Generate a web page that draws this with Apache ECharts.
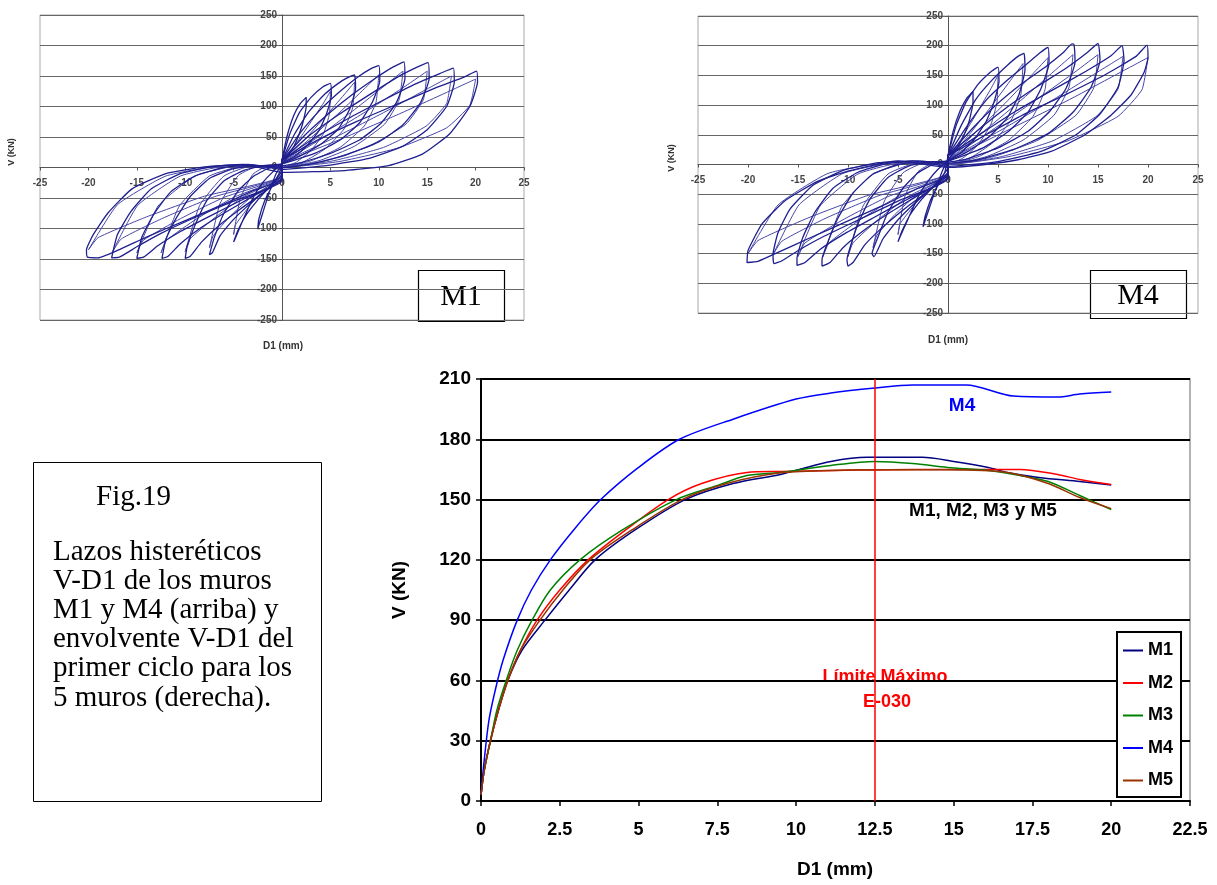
<!DOCTYPE html>
<html>
<head>
<meta charset="utf-8">
<script src="https://cdn.jsdelivr.net/npm/echarts@6/dist/echarts.min.js"></script>
<style>
  html, body { margin: 0; padding: 0; background: #fff; }
  #chart { width: 1217px; height: 885px; }
</style>
</head>
<body>
<div id="chart"></div>
<script>
// envolventes del primer ciclo, D1 (mm) vs V (KN)
const m1Env = [[0,3],[0.1,15],[0.3,30],[0.55,45],[0.85,60],[1.3,75],[2.03,90],[2.8,105],[3.62,120],[4.9,135],[6.48,150],[8,158],[9.5,162.5],[10.1,165],[11.1,169],[12.25,171],[14,171],[15,169],[16.1,166],[16.7,163.5],[17.7,161],[19,159],[20,157.3]];
const m2Env = [[0,3],[0.1,15],[0.3,30],[0.55,45],[0.85,60],[1.25,75],[1.78,90],[2.5,105],[3.4,120],[4.6,135],[5.94,150],[7,158],[8.44,163.5],[9.5,164],[11.3,164.5],[13.7,165],[15,165],[17.1,165],[18.3,162.5],[19,160],[20,157.5]];
const m3Env = [[0,3],[0.1,15],[0.3,30],[0.5,45],[0.8,60],[1.15,75],[1.62,90],[2.2,105],[3.14,120],[4.5,135],[6.2,150],[7.5,157],[8.44,162],[9.5,163.5],[11.1,167],[12.5,169],[13.7,168],[14.8,166],[16.1,164.5],[17.1,162],[18,159],[19,152],[20,145]];
const m4Env = [[0,3],[0.1,20],[0.25,40],[0.45,55],[0.7,70],[1.15,90],[1.6,105],[2.2,120],[3,136],[3.8,150],[5,166],[6.3,180],[8,190],[10,200],[11.1,203],[12.5,205.5],[13.7,207],[15.4,207],[16.9,201.5],[18.3,201],[19,202.5],[20,203.5]];
const m5Env = [[0,3],[0.1,15],[0.3,30],[0.55,45],[0.85,60],[1.25,75],[1.87,90],[2.6,105],[3.46,120],[4.8,135],[6.38,150],[7.8,158],[9.5,163.3],[11,164.5],[12.5,164.8],[14.8,164.8],[16.7,163.5],[18,158],[19,151],[20,145.5]];
const envNames = ['M1', 'M2', 'M3', 'M4', 'M5'];
const envColors = ['#000080', '#ff0000', '#008000', '#0000ff', '#993300'];
const limiteD1 = 12.5;

// lazos histereticos del muro M1, primer ciclo de cada nivel
const m1Loop2_5 = [[0,12],[0.5,50],[1.2,85],[1.9,105],[2.5,115],[2.5,100],[2.1,70],[1.4,40],[0.6,18],[0,5],[-0.6,-10],[-1.3,-40],[-2,-75],[-2.5,-100],[-2.4,-85],[-1.8,-55],[-1,-30],[-0.3,-10],[0,5]];
const m1Loop5 = [[0,12],[0.8,55],[1.8,90],[3,115],[4.2,132],[5,138],[5.1,118],[4.6,88],[3.8,60],[2.6,36],[1.3,18],[0,6],[-1,-8],[-2,-25],[-3,-50],[-4,-85],[-4.8,-115],[-5,-122],[-4.6,-105],[-3.8,-80],[-2.6,-55],[-1.2,-30],[0,-5],[0,12]];
const m1Loop7_5 = [[0,12],[1.3,55],[2.8,92],[4.4,120],[6,140],[7,149],[7.5,152],[7.6,130],[7,96],[5.8,63],[4,38],[2,20],[0,6],[-1.5,-2],[-3,-15],[-4.5,-38],[-6,-75],[-7,-115],[-7.5,-143],[-7.2,-140],[-6.4,-112],[-5,-85],[-3.2,-58],[-1.5,-35],[0,-10],[0,12]];
const m1Loop10 = [[0,12],[1.8,55],[3.8,92],[5.8,122],[7.8,148],[9.2,162],[10,167],[10.1,142],[9.3,106],[8,73],[6,45],[3.5,24],[0,6],[-2,3],[-4,-5],[-6,-22],[-7.8,-55],[-9,-95],[-9.8,-130],[-10,-149],[-9.5,-146],[-8.3,-122],[-6.5,-95],[-4.3,-68],[-2,-42],[0,-15],[0,12]];
const m1Loop12_5 = [[0,12],[2.3,52],[4.8,88],[7.3,120],[9.8,148],[11.5,165],[12.6,173],[12.7,146],[11.8,106],[10.2,72],[8,45],[5,23],[2,8],[0,3],[-2.5,3],[-5,-2],[-7.5,-18],[-9.5,-48],[-11,-85],[-12,-118],[-12.4,-149],[-11.8,-146],[-10.5,-125],[-8.5,-100],[-6,-75],[-3,-47],[0,-18],[0,12]];
const m1Loop15 = [[0,12],[2.8,52],[5.8,86],[8.8,117],[11.8,147],[13.9,164],[15.1,172],[15.2,146],[14.3,106],[12.5,70],[10,42],[6.5,20],[3,6],[0,0],[-3,4],[-6,0],[-9,-14],[-11.5,-40],[-13.3,-78],[-14.5,-115],[-15,-149],[-14.3,-147],[-12.8,-128],[-10.5,-105],[-7.5,-80],[-4,-52],[0,-20],[0,12]];
const m1Loop17_5 = [[0,12],[3.3,48],[6.8,80],[10.3,109],[13.8,137],[16.3,154],[17.7,163],[17.8,140],[17,100],[15,62],[12.5,35],[9,15],[5,4],[0,-3],[-3.5,5],[-7,2],[-10.5,-10],[-13.5,-35],[-15.6,-72],[-17,-110],[-17.6,-148],[-16.8,-147],[-15,-130],[-12.5,-108],[-9,-82],[-5,-55],[0,-22],[0,12]];
const m1Loop20 = [[0,12],[3.8,46],[7.8,76],[11.8,103],[15.8,130],[18.8,148],[20.1,158],[20.2,140],[19.4,100],[17.3,55],[14.5,22],[11,3],[6.5,-5],[0,-8],[-4,5],[-8,1],[-12,-10],[-15.5,-35],[-18,-75],[-19.5,-110],[-20.2,-135],[-20.1,-147],[-19,-148],[-17,-136],[-14,-114],[-10,-87],[-6,-60],[-3,-38],[0,-18],[0,12]];
// M1, ciclos repetidos (degradados)
const m1Rep5 = [[0,8],[1.5,40],[3,75],[4.3,106],[5,125],[4.9,88],[4.3,56],[3,28],[1.5,9],[0,0],[-1.5,2],[-3,-11],[-4.3,-50],[-5,-110],[-4.8,-94],[-3.5,-66],[-2,-38],[0,-11],[0,8]];
const m1Rep7_5 = [[0,8],[2.3,45],[4.5,84],[6.4,119],[7.5,140],[7.3,98],[6.4,63],[4.5,31],[2.3,10],[0,0],[-2.3,3],[-4.5,-13],[-6.4,-59],[-7.5,-132],[-7.1,-112],[-5.3,-79],[-3,-46],[0,-13],[0,8]];
const m1Rep10 = [[0,8],[3,49],[6,91],[8.5,129],[10,152],[9.7,106],[8.5,68],[6,33],[3,11],[0,0],[-3,3],[-6,-14],[-8.5,-62],[-10,-138],[-9.5,-117],[-7,-83],[-4,-48],[0,-14],[0,8]];
const m1Rep12_5 = [[0,8],[3.8,51],[7.5,95],[10.6,134],[12.5,158],[12.1,111],[10.6,71],[7.5,35],[3.8,11],[0,0],[-3.8,3],[-7.5,-14],[-10.6,-63],[-12.5,-140],[-11.9,-119],[-8.8,-84],[-5,-49],[0,-14],[0,8]];
const m1Rep15 = [[0,8],[4.5,51],[9,95],[12.8,134],[15,158],[14.6,111],[12.8,71],[9,35],[4.5,11],[0,0],[-4.5,3],[-9,-14],[-12.8,-63],[-15,-140],[-14.3,-119],[-10.5,-84],[-6,-49],[0,-14],[0,8]];
const m1Rep17_5 = [[0,8],[5.3,48],[10.5,90],[14.9,128],[17.5,150],[17,105],[14.9,68],[10.5,33],[5.3,11],[0,0],[-5.3,3],[-10.5,-14],[-14.9,-62],[-17.5,-138],[-16.6,-117],[-12.3,-83],[-7,-48],[0,-14],[0,8]];
const m1Rep20 = [[0,8],[6,46],[12,87],[17,123],[20,145],[19.4,102],[17,65],[12,32],[6,10],[0,0],[-6,3],[-12,-14],[-17,-61],[-20,-135],[-19,-115],[-14,-81],[-8,-47],[0,-14],[0,8]];

// lazos histereticos del muro M4, primer ciclo de cada nivel
const m4Loop2_5 = [[0,15],[0.5,55],[1.2,90],[1.9,112],[2.5,123],[2.5,105],[2.1,72],[1.4,42],[0.6,20],[0,8],[-0.6,-12],[-1.3,-45],[-2,-80],[-2.5,-105],[-2.3,-88],[-1.7,-58],[-0.9,-32],[-0.3,-12],[0,15]];
const m4Loop5 = [[0,15],[0.8,65],[1.8,105],[3,135],[4.2,155],[5,164],[5.1,140],[4.6,105],[3.8,72],[2.6,42],[1.3,20],[0,6],[-1,-8],[-2,-28],[-3,-55],[-4,-92],[-4.8,-122],[-5,-130],[-4.6,-112],[-3.8,-85],[-2.6,-58],[-1.2,-32],[0,-5],[0,15]];
const m4Loop7_5 = [[0,15],[1.3,65],[2.8,110],[4.4,142],[6,168],[7,182],[7.6,187],[7.7,160],[7.1,118],[5.9,78],[4,45],[2,22],[0,6],[-1.5,0],[-3,-14],[-4.5,-40],[-6,-80],[-7,-122],[-7.6,-150],[-7.4,-155],[-6.5,-125],[-5,-93],[-3.2,-63],[-1.5,-38],[0,-12],[0,15]];
const m4Loop10 = [[0,15],[1.8,62],[3.8,108],[5.8,140],[7.8,168],[9.2,188],[10,197],[10.1,170],[9.3,128],[8,88],[6,55],[3.5,28],[0,6],[-2,4],[-4,-3],[-6,-22],[-7.8,-58],[-9,-100],[-9.8,-140],[-10.1,-160],[-10,-171],[-9.5,-165],[-8.3,-135],[-6.5,-105],[-4.3,-74],[-2,-45],[0,-16],[0,15]];
const m4Loop12_5 = [[0,15],[2.3,58],[4.8,100],[7.3,135],[9.8,165],[11.5,188],[12.4,203],[12.6,202],[12.7,172],[11.8,128],[10.2,90],[8,56],[5,28],[2,10],[0,4],[-2.5,5],[-5,0],[-7.5,-16],[-9.5,-48],[-11,-90],[-12,-130],[-12.6,-160],[-12.6,-171],[-11.8,-165],[-10.5,-140],[-8.5,-112],[-6,-83],[-3,-52],[0,-20],[0,15]];
const m4Loop15 = [[0,15],[2.8,55],[5.8,95],[8.8,130],[11.8,162],[13.9,188],[15,204],[15.2,176],[14.3,130],[12.5,88],[10,52],[6.5,25],[3,8],[0,2],[-3,6],[-6,2],[-9,-13],[-11.5,-40],[-13.3,-80],[-14.5,-122],[-15.1,-158],[-15.1,-170],[-14.3,-165],[-12.8,-143],[-10.5,-118],[-7.5,-90],[-4,-58],[0,-22],[0,15]];
const m4Loop17_5 = [[0,15],[3.3,52],[6.8,90],[10.3,124],[13.8,157],[16.3,183],[17.4,200],[17.6,175],[17,130],[15.2,85],[12.8,50],[9.3,22],[5,5],[0,-3],[-3.5,6],[-7,3],[-10.5,-10],[-13.5,-35],[-15.8,-75],[-17,-115],[-17.5,-152],[-17.4,-167],[-16.6,-162],[-14.8,-143],[-12.3,-120],[-8.8,-92],[-4.8,-60],[0,-24],[0,15]];
const m4Loop20 = [[0,15],[3.8,50],[7.8,86],[11.8,118],[15.8,152],[18.8,182],[19.9,201],[20,180],[19.6,155],[18.3,117],[16.3,83],[13.7,50],[10.3,22],[7,8],[3.7,0],[0,-5],[-5,6],[-10,-11],[-13,-28],[-16.3,-61],[-18.6,-100],[-20,-145],[-20.1,-165],[-19,-163],[-17,-148],[-14,-125],[-10,-95],[-6,-65],[-3,-40],[0,-18],[0,15]];
// M4, ciclos repetidos (degradados)
const m4Rep5 = [[0,8],[1.5,48],[3,90],[4.3,128],[5,150],[4.9,105],[4.3,68],[3,33],[1.5,11],[0,0],[-1.5,2],[-3,-12],[-4.3,-53],[-5,-118],[-4.8,-100],[-3.5,-71],[-2,-41],[0,-12],[0,8]];
const m4Rep7_5 = [[0,8],[2.3,54],[4.5,102],[6.4,145],[7.5,170],[7.3,119],[6.4,77],[4.5,37],[2.3,12],[0,0],[-2.3,3],[-4.5,-14],[-6.4,-63],[-7.5,-140],[-7.1,-119],[-5.3,-84],[-3,-49],[0,-14],[0,8]];
const m4Rep10 = [[0,8],[3,58],[6,108],[8.5,153],[10,180],[9.7,126],[8.5,81],[6,40],[3,13],[0,0],[-3,3],[-6,-16],[-8.5,-70],[-10,-155],[-9.5,-132],[-7,-93],[-4,-54],[0,-16],[0,8]];
const m4Rep12_5 = [[0,8],[3.8,59],[7.5,111],[10.6,157],[12.5,185],[12.1,130],[10.6,83],[7.5,41],[3.8,13],[0,0],[-3.8,3],[-7.5,-16],[-10.6,-70],[-12.5,-155],[-11.9,-132],[-8.8,-93],[-5,-54],[0,-16],[0,8]];
const m4Rep15 = [[0,8],[4.5,59],[9,111],[12.8,157],[15,185],[14.6,130],[12.8,83],[9,41],[4.5,13],[0,0],[-4.5,3],[-9,-16],[-12.8,-70],[-15,-155],[-14.3,-132],[-10.5,-93],[-6,-54],[0,-16],[0,8]];
const m4Rep17_5 = [[0,8],[5.3,58],[10.5,109],[14.9,155],[17.5,182],[17,127],[14.9,82],[10.5,40],[5.3,13],[0,0],[-5.3,3],[-10.5,-15],[-14.9,-68],[-17.5,-152],[-16.6,-129],[-12.3,-91],[-7,-53],[0,-15],[0,8]];
const m4Rep20 = [[0,8],[6,58],[12,108],[17,153],[20,180],[19.4,126],[17,81],[12,40],[6,13],[0,0],[-6,3],[-12,-15],[-17,-68],[-20,-150],[-19,-128],[-14,-90],[-8,-52],[0,-15],[0,8]];

const m1Loops = [m1Loop2_5, m1Loop5, m1Loop7_5, m1Loop10, m1Loop12_5, m1Loop15, m1Loop17_5, m1Loop20];
const m1Reps = [m1Rep5, m1Rep7_5, m1Rep10, m1Rep12_5, m1Rep15, m1Rep17_5, m1Rep20];
const m4Loops = [m4Loop2_5, m4Loop5, m4Loop7_5, m4Loop10, m4Loop12_5, m4Loop15, m4Loop17_5, m4Loop20];
const m4Reps = [m4Rep5, m4Rep7_5, m4Rep10, m4Rep12_5, m4Rep15, m4Rep17_5, m4Rep20];

const captionLines = ['Lazos histeréticos', 'V-D1 de los muros', 'M1 y M4 (arriba) y', 'envolvente V-D1 del', 'primer ciclo para los', '5 muros (derecha).'];

const sans = '"Liberation Sans", Arial, sans-serif';
const serif = '"Liberation Serif", "Times New Roman", serif';
const loopColor = '#1f1f8f';
const repColor = '#4646a6';

// ejes que se cruzan en el origen: se desplazan a mitad del cuadro
function smallXAxis(idx, mid) {
    return {
        gridIndex: idx, type: 'value', min: -25, max: 25, interval: 5, offset: -mid,
        axisLine: { onZero: false, lineStyle: { color: '#555', width: 1 } },
        axisTick: { show: true, length: 3, lineStyle: { color: '#555' } },
        axisLabel: { color: '#444', fontSize: 10, fontWeight: 'bold', fontFamily: sans, margin: 11 },
        splitLine: { show: false }
    };
}
function smallYAxis(idx, mid) {
    return {
        gridIndex: idx, type: 'value', min: -250, max: 250, interval: 50, offset: -mid,
        axisLine: { show: true, onZero: false, lineStyle: { color: '#555', width: 1 } },
        axisTick: { show: true, length: 3, lineStyle: { color: '#555' } },
        axisLabel: { color: '#444', fontSize: 10, fontWeight: 'bold', fontFamily: sans, margin: 5 },
        splitLine: { show: true, lineStyle: { color: '#666', width: 1 } }
    };
}

let series = [];
function addLoops(loops, axis, color, width, tag) {
    loops.forEach(function (loop, i) {
        series.push({ name: tag + i, type: 'line', xAxisIndex: axis, yAxisIndex: axis, data: loop,
            showSymbol: false, symbol: 'none', smooth: 0.15, lineStyle: { color: color, width: width }, silent: true });
    });
}
addLoops(m1Reps, 0, repColor, 1, 'rep M1 ');
addLoops(m1Loops, 0, loopColor, 1.3, 'lazo M1 ');
addLoops(m4Reps, 1, repColor, 1, 'rep M4 ');
addLoops(m4Loops, 1, loopColor, 1.3, 'lazo M4 ');

[m1Env, m2Env, m3Env, m4Env, m5Env].forEach(function (env, i) {
    let s = { name: envNames[i], type: 'line', xAxisIndex: 2, yAxisIndex: 2, data: env,
        showSymbol: false, symbol: 'none', smooth: 0.3, color: envColors[i],
        lineStyle: { color: envColors[i], width: 1.5 } };
    if (i === 0) {
        s.markLine = { silent: true, symbol: 'none', label: { show: false },
            lineStyle: { color: '#ff0000', width: 1.5, type: 'solid' },
            data: [{ xAxis: limiteD1 }] };
    }
    series.push(s);
});

let graphics = [
    // cuadro de texto de la figura
    { type: 'rect', shape: { x: 33.5, y: 462.5, width: 288, height: 339 }, style: { fill: '#fff', stroke: '#000', lineWidth: 1 } },
    { type: 'text', x: 96, y: 497, style: { text: 'Fig.19', font: '29px ' + serif, fill: '#000', align: 'left', verticalAlign: 'middle' } },
    // etiquetas M1 / M4 de los lazos
    { type: 'rect', shape: { x: 418.5, y: 270.5, width: 86, height: 51 }, style: { fill: '#fff', stroke: '#000', lineWidth: 1.2 } },
    { type: 'text', x: 461, y: 297, style: { text: 'M1', font: '30px ' + serif, fill: '#000', align: 'center', verticalAlign: 'middle' } },
    { type: 'rect', shape: { x: 1090.5, y: 270.5, width: 96, height: 48 }, style: { fill: '#fff', stroke: '#000', lineWidth: 1.2 } },
    { type: 'text', x: 1138, y: 296, style: { text: 'M4', font: '30px ' + serif, fill: '#000', align: 'center', verticalAlign: 'middle' } },
    // titulos de ejes
    { type: 'text', x: 12, y: 152, rotation: Math.PI / 2, style: { text: 'V (KN)', font: 'bold 9px ' + sans, fill: '#333', align: 'center', verticalAlign: 'middle' } },
    { type: 'text', x: 283, y: 346, style: { text: 'D1 (mm)', font: 'bold 10px ' + sans, fill: '#333', align: 'center', verticalAlign: 'middle' } },
    { type: 'text', x: 672, y: 158, rotation: Math.PI / 2, style: { text: 'V (KN)', font: 'bold 9px ' + sans, fill: '#333', align: 'center', verticalAlign: 'middle' } },
    { type: 'text', x: 948, y: 340, style: { text: 'D1 (mm)', font: 'bold 10px ' + sans, fill: '#333', align: 'center', verticalAlign: 'middle' } },
    { type: 'text', x: 400, y: 590, rotation: Math.PI / 2, style: { text: 'V (KN)', font: 'bold 19px ' + sans, fill: '#000', align: 'center', verticalAlign: 'middle' } },
    { type: 'text', x: 835, y: 870, style: { text: 'D1 (mm)', font: 'bold 19px ' + sans, fill: '#000', align: 'center', verticalAlign: 'middle' } },
    // anotaciones del grafico principal
    { type: 'text', x: 962, y: 406, style: { text: 'M4', font: 'bold 19px ' + sans, fill: '#0000ff', align: 'center', verticalAlign: 'middle' } },
    { type: 'text', x: 983, y: 511, style: { text: 'M1, M2, M3 y M5', font: 'bold 19px ' + sans, fill: '#000', align: 'center', verticalAlign: 'middle' } },
    { type: 'text', x: 885, y: 677, style: { text: 'Límite Máximo', font: 'bold 18px ' + sans, fill: '#ff0000', align: 'center', verticalAlign: 'middle' } },
    { type: 'text', x: 887, y: 702, style: { text: 'E-030', font: 'bold 18px ' + sans, fill: '#ff0000', align: 'center', verticalAlign: 'middle' } }
];
captionLines.forEach(function (line, i) {
    graphics.push({ type: 'text', x: 53, y: 552 + i * 29.2,
        style: { text: line, font: '29px ' + serif, fill: '#000', align: 'left', verticalAlign: 'middle' } });
});

let myChart = echarts.init(document.getElementById('chart'));
let option = {
    animation: false,
    backgroundColor: '#fff',
    grid: [
        { left: 40, top: 15, width: 484, height: 305, show: true, borderColor: '#aaa', borderWidth: 1, backgroundColor: '#fff' },
        { left: 698, top: 16, width: 500, height: 297, show: true, borderColor: '#aaa', borderWidth: 1, backgroundColor: '#fff' },
        { left: 481, top: 379, width: 709, height: 422, show: true, borderColor: '#999', borderWidth: 1.5, backgroundColor: '#fff' }
    ],
    xAxis: [
        smallXAxis(0, 152.5),
        smallXAxis(1, 148.5),
        {
            gridIndex: 2, type: 'value', min: 0, max: 22.5, interval: 2.5,
            axisLine: { lineStyle: { color: '#000', width: 2 } },
            axisTick: { show: true, length: 5, lineStyle: { color: '#000', width: 1.5 } },
            axisLabel: { color: '#000', fontSize: 18, fontWeight: 'bold', fontFamily: sans, margin: 20 },
            splitLine: { show: false }
        }
    ],
    yAxis: [
        smallYAxis(0, 242),
        smallYAxis(1, 250),
        {
            gridIndex: 2, type: 'value', min: 0, max: 210, interval: 30,
            axisLine: { show: true, lineStyle: { color: '#000', width: 2 } },
            axisTick: { show: true, length: 5, lineStyle: { color: '#000', width: 1.5 } },
            axisLabel: { color: '#000', fontSize: 19, fontWeight: 'bold', fontFamily: sans, margin: 10 },
            splitLine: { show: true, lineStyle: { color: '#000', width: 2 } }
        }
    ],
    legend: {
        data: envNames, orient: 'vertical', left: 1117, top: 632,
        icon: 'rect', itemWidth: 20, itemHeight: 2, itemGap: 11.5,
        borderColor: '#000', borderWidth: 2, backgroundColor: '#fff',
        padding: [8, 8, 6, 6],
        textStyle: { color: '#000', fontSize: 18, fontWeight: 'bold', fontFamily: sans, lineHeight: 21 }
    },
    graphic: graphics,
    series: series
};
myChart.setOption(option);
</script>
</body>
</html>
